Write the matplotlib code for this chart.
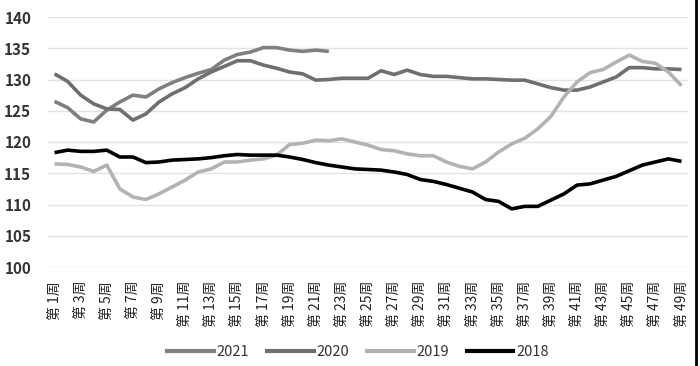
import matplotlib
matplotlib.use("Agg")
import matplotlib.pyplot as plt
from matplotlib.lines import Line2D

plt.rcParams['font.family'] = ['Noto Sans CJK SC', 'DejaVu Sans']

weeks = list(range(1, 50))
week_labels = [f"第 {w}周" for w in weeks]

s2021 = [126.5, 125.5, 123.7, 123.2, 125.1, 126.4, 127.5, 127.2, 128.5, 129.5,
         130.3, 131.0, 131.6, 133.1, 134.0, 134.4, 135.1, 135.1, 134.7, 134.5,
         134.7, 134.5]
s2020 = [130.9, 129.7, 127.5, 126.1, 125.3, 125.2, 123.5, 124.5, 126.4, 127.7,
         128.7, 130.1, 131.2, 132.1, 133.0, 133.0, 132.3, 131.8, 131.2, 130.9,
         129.9, 130.0, 130.2, 130.2, 130.2, 131.4, 130.8, 131.5, 130.8, 130.5,
         130.5, 130.3, 130.1, 130.1, 130.0, 129.9, 129.9, 129.3, 128.7, 128.3,
         128.3, 128.8, 129.6, 130.4, 131.9, 131.9, 131.7, 131.7, 131.6]
s2019 = [116.5, 116.4, 116.0, 115.3, 116.3, 112.5, 111.2, 110.8, 111.7, 112.8,
         113.9, 115.2, 115.7, 116.8, 116.8, 117.1, 117.3, 117.9, 119.6, 119.8,
         120.3, 120.2, 120.5, 120.0, 119.5, 118.8, 118.6, 118.1, 117.8, 117.8,
         116.8, 116.1, 115.7, 116.8, 118.4, 119.7, 120.6, 122.1, 124.1, 127.2,
         129.6, 131.1, 131.6, 132.8, 133.9, 132.9, 132.6, 131.2, 129.0]
s2018 = [118.3, 118.7, 118.5, 118.5, 118.7, 117.6, 117.6, 116.7, 116.8, 117.1,
         117.2, 117.3, 117.5, 117.8, 118.0, 117.9, 117.9, 117.9, 117.6, 117.2,
         116.7, 116.3, 116.0, 115.7, 115.6, 115.5, 115.2, 114.8, 114.0, 113.7,
         113.2, 112.6, 112.0, 110.8, 110.5, 109.3, 109.7, 109.7, 110.7, 111.7,
         113.1, 113.3, 113.9, 114.5, 115.4, 116.3, 116.8, 117.3, 116.9]

series_names = ["2021", "2020", "2019", "2018"]
colors = ["#808080", "#6f6f6f", "#b3b3b3", "#000000"]
data = [s2021, s2020, s2019, s2018]

fig = plt.figure(figsize=(7.0, 3.66), dpi=100)
ax = fig.add_axes([48/700, 1 - 267/366, (688-48)/700, (267-17)/366])

for name, col, vals in zip(series_names, colors, data):
    ax.plot(weeks[:len(vals)], vals, color=col, lw=2.6, label=name,
            solid_joinstyle='round', solid_capstyle='butt')

ax.set_xlim(0.5, 49.5)
ax.set_ylim(100, 140)
ax.set_yticks(range(100, 141, 5))
ax.yaxis.grid(True, color="#e3e3e3", lw=1)
ax.set_axisbelow(True)
for sp in ax.spines.values():
    sp.set_visible(False)
ax.tick_params(axis='y', length=0, pad=12, labelsize=11)
ax.tick_params(axis='x', length=0, pad=10, labelsize=10)
for lab in ax.get_yticklabels():
    lab.set_fontweight('bold')
    lab.set_color('#333333')

ax.set_xticks(weeks[::2])
ax.set_xticklabels(week_labels[::2], rotation=90, color='#222222')

handles = [Line2D([0], [0], color=c, lw=3) for c in colors]
leg = fig.legend(handles, series_names, loc='center', bbox_to_anchor=(358/700, 1 - 352/366),
                 ncol=4, frameon=False, handlelength=3.2, handletextpad=0.2,
                 columnspacing=1.2, prop={'size': 10.5})
for t in leg.get_texts():
    t.set_color('#333333')

fig.add_artist(Line2D([696/700, 696/700], [0, 1], transform=fig.transFigure,
                      color='black', lw=2))

fig.savefig("out.png", dpi=100)
